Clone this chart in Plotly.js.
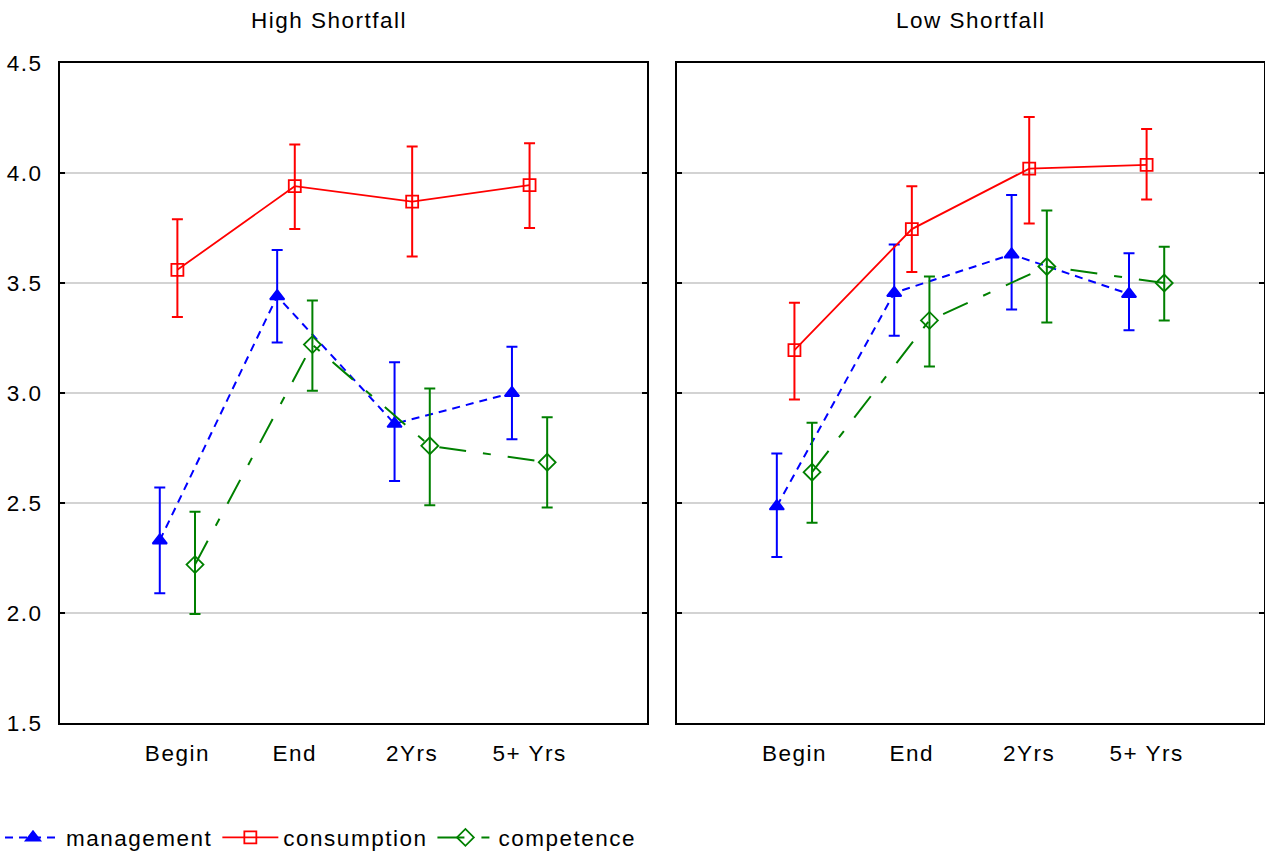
<!DOCTYPE html>
<html>
<head>
<meta charset="utf-8">
<script src="https://cdn.plot.ly/plotly-3.0.1.min.js"></script>
<style>
html,body{margin:0;padding:0;background:#fff;}
#chart{width:1265px;height:854px;}
svg text{letter-spacing:1.5px;}
</style>
</head>
<body>
<div id="chart"></div>
<script>
const categories = ["Begin", "End", "2Yrs", "5+ Yrs"];
const panelTitles = ["High Shortfall", "Low Shortfall"];
const seriesNames = ["management", "consumption", "competence"];

// High Shortfall
const highManagement = [2.33, 3.44, 2.86, 3.00];
const highManagementHi = [2.57, 3.65, 3.14, 3.21];
const highManagementLo = [2.09, 3.23, 2.60, 2.79];
const highConsumption = [3.56, 3.94, 3.87, 3.945];
const highConsumptionHi = [3.79, 4.13, 4.12, 4.135];
const highConsumptionLo = [3.345, 3.745, 3.62, 3.75];
const highCompetence = [2.22, 3.22, 2.76, 2.685];
const highCompetenceHi = [2.46, 3.42, 3.02, 2.89];
const highCompetenceLo = [1.995, 3.01, 2.49, 2.48];

// Low Shortfall
const lowManagement = [2.485, 3.455, 3.63, 3.45];
const lowManagementHi = [2.725, 3.675, 3.90, 3.635];
const lowManagementLo = [2.255, 3.26, 3.38, 3.285];
const lowConsumption = [3.195, 3.745, 4.02, 4.037];
const lowConsumptionHi = [3.41, 3.94, 4.255, 4.20];
const lowConsumptionLo = [2.97, 3.55, 3.77, 3.88];
const lowCompetence = [2.64, 3.33, 3.575, 3.50];
const lowCompetenceHi = [2.865, 3.53, 3.83, 3.665];
const lowCompetenceLo = [2.41, 3.12, 3.32, 3.33];

const yTicks = [1.5, 2.0, 2.5, 3.0, 3.5, 4.0, 4.5];
const yTickText = ["1.5", "2.0", "2.5", "3.0", "3.5", "4.0", "4.5"];

const FONT = "Liberation Sans, Arial, sans-serif";
const FS = 22.5;
const styles = [
  {color: "#0000ff", symbol: "triangle-up", size: 12.5, dash: "8px,6px", offset: -0.15, lw: 2},
  {color: "#ff0000", symbol: "square-open", size: 12, dash: "solid", offset: 0, lw: 1.8},
  {color: "#008000", symbol: "diamond-open", size: 13, dash: "27px,17px,8px,17px", offset: 0.15, lw: 2}
];

function mk(idx, vals, hi, lo, xa, ya, showLegend) {
  const s = styles[idx];
  const x = categories.map((c, i) => i + s.offset);
  return {
    type: "scatter", mode: "lines+markers",
    name: seriesNames[idx], legendgroup: seriesNames[idx], showlegend: showLegend,
    x: x, y: vals, xaxis: xa, yaxis: ya,
    line: {color: s.color, width: s.lw, dash: s.dash},
    marker: {color: s.color, symbol: s.symbol, size: s.size, line: {color: s.color, width: 1.8}},
    error_y: {type: "data", symmetric: false,
      array: hi.map((h, i) => h - vals[i]),
      arrayminus: lo.map((l, i) => vals[i] - l),
      color: s.color, thickness: 2, width: 5.5},
    hoverinfo: "x+y"
  };
}

const data = [
  mk(0, highManagement, highManagementHi, highManagementLo, "x", "y", true),
  mk(1, highConsumption, highConsumptionHi, highConsumptionLo, "x", "y", true),
  mk(2, highCompetence, highCompetenceHi, highCompetenceLo, "x", "y", true),
  mk(0, lowManagement, lowManagementHi, lowManagementLo, "x2", "y2", false),
  mk(1, lowConsumption, lowConsumptionHi, lowConsumptionLo, "x2", "y2", false),
  mk(2, lowCompetence, lowCompetenceHi, lowCompetenceLo, "x2", "y2", false)
];

const xCommon = {
  range: [-1, 4], tickmode: "array", tickvals: categories.map((c, i) => i), ticktext: categories,
  showgrid: false, zeroline: false, showline: true, mirror: true, linecolor: "#000", linewidth: 2,
  ticks: "", ticklabelstandoff: 9, automargin: false,
  tickfont: {family: FONT, size: FS, color: "#000"}, fixedrange: true
};
const yCommon = {
  range: [1.5, 4.5], tickmode: "array", tickvals: yTicks, ticktext: yTickText,
  showgrid: true, gridcolor: "#d3d3d3", gridwidth: 2, zeroline: false,
  showline: true, mirror: "ticks", linecolor: "#000", linewidth: 2,
  ticks: "inside", ticklen: 5, tickwidth: 2, tickcolor: "#000", ticklabelstandoff: 11, automargin: false,
  tickfont: {family: FONT, size: FS, color: "#000"}, fixedrange: true
};

const layout = {
  width: 1265, height: 854,
  margin: {l: 60, r: 1, t: 63, b: 131, autoexpand: false},
  paper_bgcolor: "#fff", plot_bgcolor: "#fff",
  font: {family: FONT, size: FS, color: "#000"},
  xaxis: Object.assign({}, xCommon, {domain: [0, 0.4875], anchor: "y"}),
  yaxis: Object.assign({}, yCommon, {domain: [0, 1], anchor: "x"}),
  xaxis2: Object.assign({}, xCommon, {domain: [0.5125, 1], anchor: "y2"}),
  yaxis2: Object.assign({}, yCommon, {domain: [0, 1], anchor: "x2", showticklabels: false}),
  showlegend: true,
  legend: {orientation: "h", xref: "container", yref: "container", x: -0.0095, xanchor: "left", y: 0.019, yanchor: "middle",
    font: {family: FONT, size: FS, color: "#000"}, bgcolor: "rgba(0,0,0,0)", itemwidth: 56, tracegroupgap: 0},
  annotations: [
    {text: panelTitles[0], xref: "paper", yref: "paper", x: 0.2234, y: 1, yshift: 43, xanchor: "center", yanchor: "middle", showarrow: false, font: {family: FONT, size: FS, color: "#000"}},
    {text: panelTitles[1], xref: "paper", yref: "paper", x: 0.75625, y: 1, yshift: 43, xanchor: "center", yanchor: "middle", showarrow: false, font: {family: FONT, size: FS, color: "#000"}}
  ]
};

Plotly.newPlot("chart", data, layout, {displayModeBar: false, staticPlot: true});
</script>
</body>
</html>
